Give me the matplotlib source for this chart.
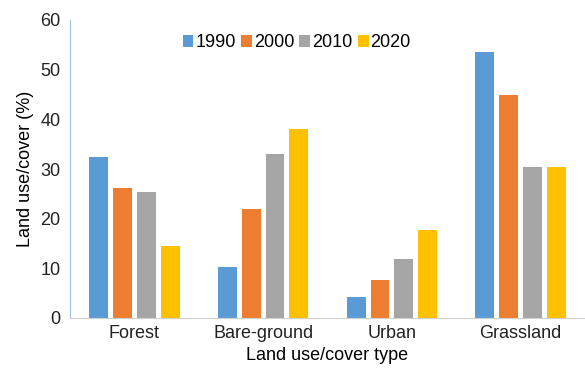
import numpy as np
import matplotlib
matplotlib.use('Agg')
import matplotlib.pyplot as plt

plt.rcParams['font.family'] = ['Liberation Sans', 'DejaVu Sans']

# 数据：土地利用类型及各年份占比
categories = ['Forest', 'Bare-ground', 'Urban', 'Grassland']
years = ['1990', '2000', '2010', '2020']
v1990 = [32.4, 10.3, 4.2, 53.5]
v2000 = [26.2, 21.9, 7.6, 44.9]
v2010 = [25.4, 33.0, 11.9, 30.4]
v2020 = [14.5, 38.0, 17.7, 30.4]
colors = ['#5b9bd5', '#ed7d31', '#a5a5a5', '#ffc000']

fig = plt.figure(figsize=(5.85, 3.81), dpi=100)
ax = fig.add_axes([70 / 585, (381 - 318) / 381, 515 / 585, 298 / 381])

x = np.arange(len(categories))
w = 0.146
step = 0.185
for i, (vals, lab) in enumerate(zip([v1990, v2000, v2010, v2020], years)):
    ax.bar(x + (i - 1.5) * step, vals, width=w, color=colors[i], label=lab, zorder=2)

ax.set_xlim(-0.5, 3.5)
ax.set_ylim(0, 60)
ax.set_yticks(range(0, 61, 10))
ax.set_xticks(x)
ax.set_xticklabels(categories)
ax.tick_params(axis='both', length=0, labelsize=13, colors='#222222')
ax.tick_params(axis='x', pad=5)
ax.tick_params(axis='y', pad=7)

ax.spines['top'].set_visible(False)
ax.spines['right'].set_visible(False)
ax.spines['left'].set_color('#9dc3e6')
ax.spines['bottom'].set_color('#d0d0d0')

ax.set_xlabel('Land use/cover type', fontsize=13, labelpad=4)
ax.set_ylabel('Land use/cover (%)', fontsize=13, labelpad=4)

ax.legend(loc='upper center', bbox_to_anchor=(0.44, 1.0), ncol=4, frameon=False,
          fontsize=13, handlelength=0.6, handleheight=0.6, handletextpad=0.1,
          columnspacing=0.3, borderaxespad=0.4)

fig.savefig('out.png', dpi=100)
